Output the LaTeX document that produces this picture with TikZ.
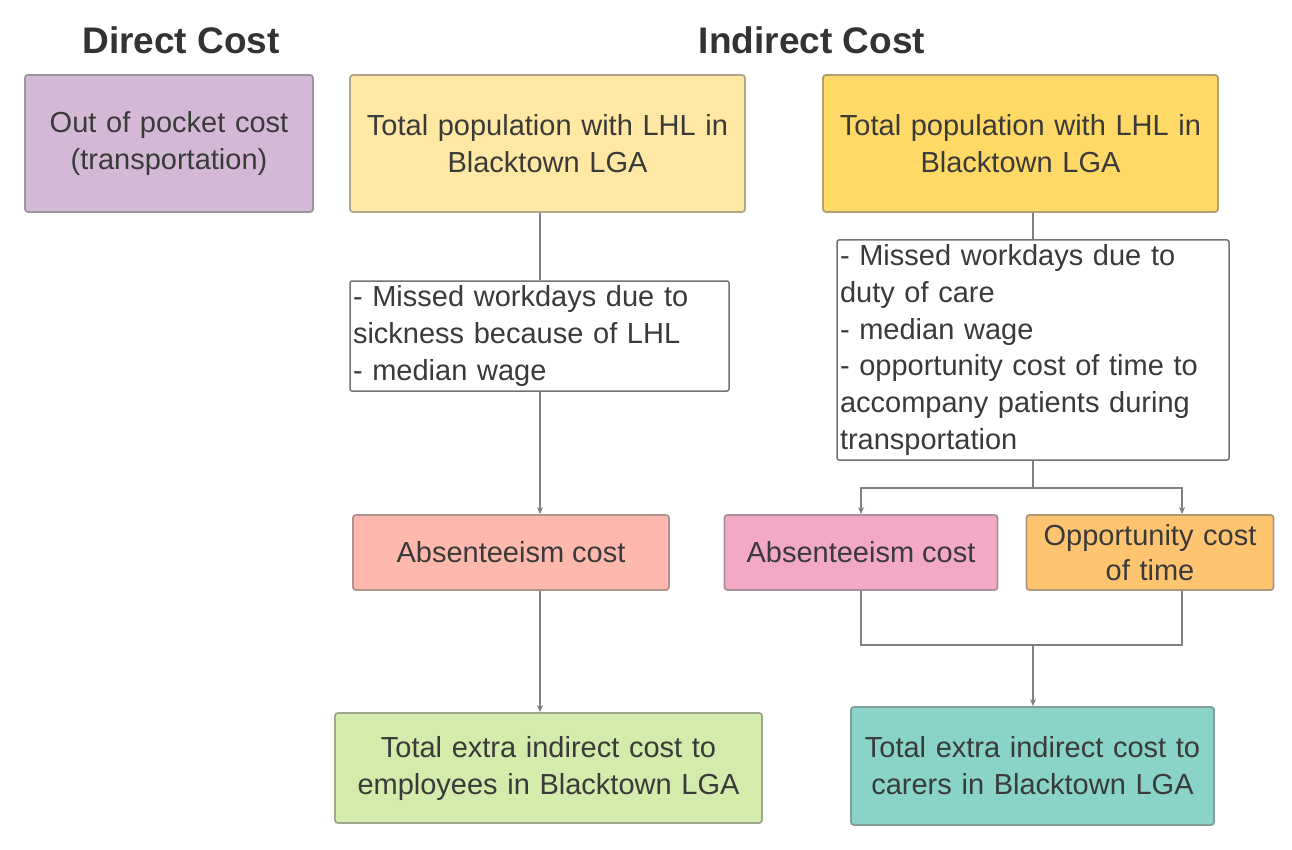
\documentclass[tikz,border=0pt]{standalone}
\usepackage{fontspec}
\setmainfont{Liberation Sans}
\usetikzlibrary{arrows.meta}
\definecolor{txt}{HTML}{3A3A3A}
\definecolor{lnc}{HTML}{808080}
\definecolor{purp}{HTML}{D4B9D6}
\definecolor{yel1}{HTML}{FFE8A3}
\definecolor{yel2}{HTML}{FFD966}
\definecolor{salm}{HTML}{FFB8AE}
\definecolor{pink}{HTML}{F3A9C6}
\definecolor{oran}{HTML}{FFC470}
\definecolor{gree}{HTML}{D3EBAB}
\definecolor{teal}{HTML}{8AD3C9}
\tikzset{
  x=1pt,y=-1pt,
  box/.style={draw=#1!55!black!70, fill=#1, line width=1.8pt, rounded corners=3pt,
    inner sep=0pt, align=center, text=txt, font=\fontsize{29}{37}\selectfont},
  wbox/.style={draw=black!55, fill=white, line width=1.5pt, rounded corners=2pt,
    inner sep=3pt, align=left, text=txt, font=\fontsize{29}{36.7}\selectfont},
  ttl/.style={font=\bfseries\fontsize{37}{40}\selectfont, text=black!80},
  conn/.style={draw=lnc, line width=1.4pt},
  arr/.style={conn, -{Stealth[length=7pt,width=6pt]}}
}
\begin{document}
\begin{tikzpicture}
\useasboundingbox[fill=white] (0,0) rectangle (1292,850);
\node[ttl] (t1) at (181,40) {Direct Cost};
\node[ttl] (t2) at (812,40) {Indirect Cost};

\node[box=purp, minimum width=288pt, minimum height=137pt, text width=270pt] (direct) at (169,143.5) {Out of pocket cost\\(transportation)};
\node[box=yel1, minimum width=395pt, minimum height=137pt, text width=385pt] (y1) at (547.5,143.5) {Total population with LHL in\\Blacktown LGA};
\node[box=yel2, minimum width=395pt, minimum height=137pt, text width=385pt] (y2) at (1020.5,143.5) {Total population with LHL in\\Blacktown LGA};

\node[wbox, minimum width=379pt, minimum height=110pt, text width=373pt] (w1) at (539.5,336) {- Missed workdays due to\\sickness because of LHL\\- median wage};
\node[wbox, minimum width=392pt, minimum height=220pt, text width=386pt] (w2) at (1033,350) {- Missed workdays due to\\duty of care\\- median wage\\- opportunity cost of time to\\accompany patients during\\transportation};

\node[box=salm, minimum width=316pt, minimum height=75pt] (a1) at (511,552.5) {Absenteeism cost};
\node[box=pink, minimum width=273pt, minimum height=75pt] (a2) at (861,552.5) {Absenteeism cost};
\node[box=oran, minimum width=247pt, minimum height=75pt, text width=240pt, font=\fontsize{29}{35}\selectfont] (opp) at (1150,552.5) {Opportunity cost\\of time};

\node[box=gree, minimum width=427pt, minimum height=110pt, text width=420pt] (green) at (548.5,768) {Total extra indirect cost to\\employees in Blacktown LGA};
\node[box=teal, minimum width=363pt, minimum height=118pt, text width=360pt] (tealb) at (1032.5,766) {Total extra indirect cost to\\carers in Blacktown LGA};

% left chain
\coordinate (lx) at (540,0);
\draw[conn] (y1.south -| lx) -- (w1.north -| lx);
\draw[arr] (w1.south -| lx) -- (a1.north -| lx);
\draw[arr] (a1.south -| lx) -- (green.north -| lx);

% right chain
\coordinate (j1) at (1033,488);
\coordinate (ox) at (1182,0);
\coordinate (j2) at (1033,645);
\draw[conn] (y2.south -| j1) -- (w2.north -| j1);
\draw[conn] (w2.south -| j1) -- (j1);
\draw[arr] (j1) -| (a2.north);
\draw[arr] (j1) -| (opp.north -| ox);
\draw[conn] (a2.south) |- (j2 -| ox) -- (opp.south -| ox);
\draw[arr] (j2) -- (tealb.north -| j2);
\end{tikzpicture}
\end{document}
